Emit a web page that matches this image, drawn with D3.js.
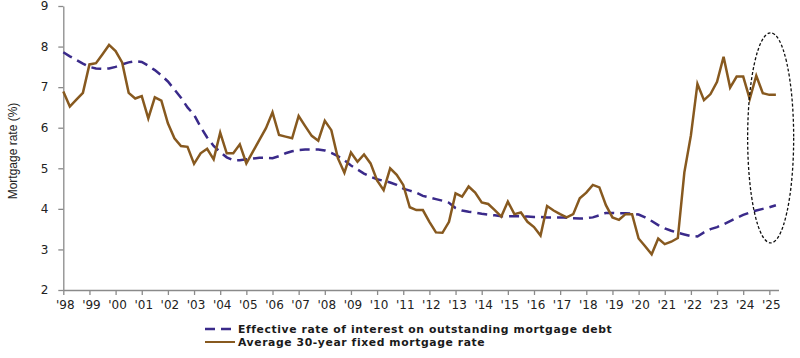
<!DOCTYPE html>
<html>
<head>
<meta charset="utf-8">
<script src="https://cdn.jsdelivr.net/npm/d3@7/dist/d3.min.js"></script>
<style>
  html, body { margin: 0; padding: 0; background: #ffffff; }
  svg { display: block; }
</style>
</head>
<body>
<svg id="chart" width="800" height="358"></svg>
<script>
// ---- Data (quarterly, starting 1998 Q1) ----
const startYear = 1998;
const yearTicks = [1998,1999,2000,2001,2002,2003,2004,2005,2006,2007,2008,2009,2010,2011,2012,2013,2014,2015,2016,2017,2018,2019,2020,2021,2022,2023,2024,2025];
const yearTickLabels = ["'98","'99","'00","'01","'02","'03","'04","'05","'06","'07","'08","'09","'10","'11","'12","'13","'14","'15","'16","'17","'18","'19","'20","'21","'22","'23","'24","'25"];
const yTicks = [2,3,4,5,6,7,8,9];

const effectiveRate = [
  7.86,7.76,7.67,7.58, 7.50,7.46,7.45,7.46, 7.50,7.56,7.61,7.64, 7.62,7.53,7.42,7.29,
  7.14,6.94,6.74,6.50, 6.32,6.02,5.76,5.55, 5.40,5.27,5.20,5.20, 5.22,5.24,5.26,5.26,
  5.25,5.30,5.37,5.42, 5.45,5.46,5.46,5.46, 5.44,5.38,5.30,5.20, 5.07,4.97,4.87,4.79,
  4.73,4.69,4.65,4.59, 4.50,4.45,4.40,4.32, 4.28,4.24,4.20,4.15, 4.02,3.96,3.93,3.91,
  3.88,3.86,3.84,3.82, 3.82,3.82,3.82,3.81, 3.80,3.80,3.79,3.79, 3.79,3.78,3.77,3.76,
  3.77,3.79,3.84,3.90, 3.90,3.89,3.89,3.88, 3.86,3.79,3.70,3.60, 3.52,3.46,3.41,3.37,
  3.33,3.32,3.42,3.50, 3.55,3.62,3.70,3.78, 3.85,3.91,3.96,4.00, 4.04,4.09
];

const fixed30 = [
  6.89,6.52,6.69,6.86, 7.56,7.59,7.81,8.04, 7.89,7.61,6.86,6.72, 6.78,6.23,6.75,6.67,
  6.11,5.74,5.55,5.53, 5.11,5.37,5.48,5.22, 5.88,5.37,5.37,5.59, 5.12,5.41,5.70,5.99,
  6.38,5.82,5.78,5.74, 6.29,6.04,5.80,5.68, 6.17,5.94,5.25,4.89, 5.39,5.16,5.34,5.12,
  4.70,4.46,5.00,4.84, 4.59,4.04,3.97,3.97, 3.68,3.42,3.41,3.68, 4.38,4.30,4.55,4.40,
  4.16,4.12,3.97,3.81, 4.18,3.87,3.91,3.68, 3.55,3.34,4.07,3.96, 3.87,3.79,3.87,4.26,
  4.40,4.59,4.53,4.09, 3.79,3.73,3.87,3.87, 3.27,3.08,2.88,3.27, 3.13,3.19,3.28,4.90,
  5.81,7.08,6.68,6.83, 7.13,7.75,6.99,7.26, 7.26,6.71,7.28,6.85, 6.81,6.81
];

const legendLabels = ["Effective rate of interest on outstanding mortgage debt", "Average 30-year fixed mortgage rate"];
const yAxisTitle = "Mortgage rate (%)";

// Highlight ellipse in data units (center year, center rate, half-width in years, half-height in rate)
const highlight = { year: 2025.05, rate: 5.75, halfYears: 0.88, halfRate: 2.59 };

// ---- Styles ----
const colBlue = "#3a2a8a";
const colBrown = "#87591f";
const axisCol = "#8a8a8a";
const textCol = "#222222";

const svg = d3.select("#chart");

const x = d3.scaleLinear().domain([1998, 2025.35]).range([63.3, 778.5]);
const y = d3.scaleLinear().domain([2, 9]).range([290, 6]);

const quarterTime = i => startYear + i / 4;

// Axes
const xAxis = d3.axisBottom(x)
  .tickValues(yearTicks)
  .tickFormat((d, i) => yearTickLabels[i])
  .tickSizeOuter(0)
  .tickSizeInner(5)
  .tickPadding(5);

const gx = svg.append("g").attr("transform", `translate(0,${y(2)})`).call(xAxis);
gx.select(".domain").attr("stroke", axisCol).attr("stroke-width", 1.3);
gx.selectAll(".tick line").attr("stroke", axisCol).attr("stroke-width", 1.3);
gx.selectAll(".tick text")
  .attr("fill", textCol)
  .attr("dx", 1.5)
  .style("font-family", "'DejaVu Sans', Verdana, sans-serif")
  .style("font-size", "12px");

const yAxis = d3.axisLeft(y)
  .tickValues(yTicks)
  .tickFormat(d3.format("d"))
  .tickSizeOuter(0)
  .tickSizeInner(5)
  .tickPadding(10);

const gy = svg.append("g").attr("transform", `translate(${x(1998)},0)`).call(yAxis);
gy.select(".domain").attr("stroke", axisCol).attr("stroke-width", 1.3);
gy.selectAll(".tick line").attr("stroke", axisCol).attr("stroke-width", 1.3);
gy.selectAll(".tick text")
  .attr("fill", textCol)
  .style("font-family", "'DejaVu Sans', Verdana, sans-serif")
  .style("font-size", "12px");

// Y axis title
svg.append("text")
  .attr("transform", `translate(17,${(y(2) + y(9)) / 2 + 3}) rotate(-90)`)
  .attr("text-anchor", "middle")
  .attr("fill", textCol)
  .style("font-family", "'Liberation Sans', Arial, sans-serif")
  .style("font-size", "12px")
  .text(yAxisTitle);

// Lines
const line = d3.line()
  .x((d, i) => x(quarterTime(i)))
  .y(d => y(d));

svg.append("path")
  .datum(effectiveRate)
  .attr("fill", "none")
  .attr("stroke", colBlue)
  .attr("stroke-width", 2.5)
  .attr("stroke-dasharray", "10,6")
  .attr("d", line);

svg.append("path")
  .datum(fixed30)
  .attr("fill", "none")
  .attr("stroke", colBrown)
  .attr("stroke-width", 2.5)
  .attr("stroke-linejoin", "miter")
  .attr("d", line);

// Highlight ellipse
const ecx = x(highlight.year), ecy = y(highlight.rate);
svg.append("ellipse")
  .attr("cx", ecx)
  .attr("cy", ecy)
  .attr("rx", x(highlight.year + highlight.halfYears) - ecx)
  .attr("ry", ecy - y(highlight.rate + highlight.halfRate))
  .attr("fill", "none")
  .attr("stroke", "#111")
  .attr("stroke-width", 1.3)
  .attr("stroke-dasharray", "3,2");

// Legend
const legend = svg.append("g");
const legendRows = [
  { label: legendLabels[0], color: colBlue, dash: "10,6", yPos: 329 },
  { label: legendLabels[1], color: colBrown, dash: null, yPos: 342 }
];
legendRows.forEach(r => {
  legend.append("line")
    .attr("x1", 205).attr("x2", r.dash ? 234 : 235)
    .attr("y1", r.yPos).attr("y2", r.yPos)
    .attr("stroke", r.color)
    .attr("stroke-width", r.dash ? 2.5 : 2)
    .attr("stroke-dasharray", r.dash);
  legend.append("text")
    .attr("x", 238)
    .attr("y", r.yPos + 4)
    .attr("fill", "#1a1a1a")
    .style("font-family", "'DejaVu Sans', Verdana, sans-serif")
    .style("font-weight", "bold")
    .style("font-size", "10.8px")
    .style("letter-spacing", "0.6px")
    .text(r.label);
});
</script>
</body>
</html>
